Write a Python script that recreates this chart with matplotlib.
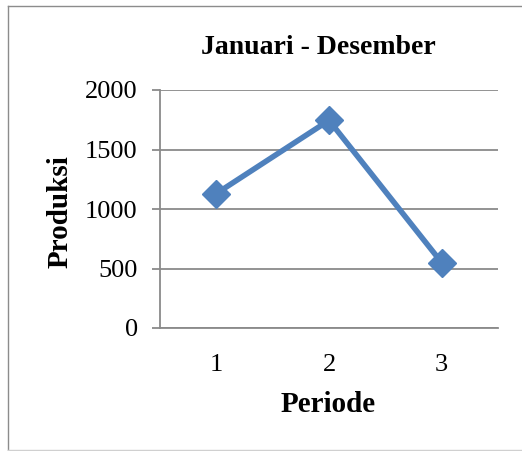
import matplotlib
matplotlib.use("Agg")
import matplotlib.pyplot as plt
from matplotlib.lines import Line2D

plt.rcParams["font.family"] = ["Liberation Serif", "DejaVu Serif"]

periode = ["1", "2", "3"]
produksi = [1130, 1745, 550]
yticks = [0, 500, 1000, 1500, 2000]

W, H = 522, 451
fig = plt.figure(figsize=(W / 100, H / 100), dpi=100)
ax = fig.add_axes([160 / W, 1 - 328 / H, (498 - 160) / W, (328 - 90) / H])

x = list(range(1, len(periode) + 1))
ax.plot(x, produksi, color="#4F81BD", lw=4, marker="D", ms=14,
        solid_joinstyle="miter", zorder=3, clip_on=False)

ax.set_xlim(0.5, 3.5)
ax.set_ylim(0, 2000)
ax.set_yticks(yticks)
ax.set_xticks(x)
ax.set_xticklabels(periode)
ax.yaxis.grid(True, color="#8a8a8a", lw=1.3)
ax.set_axisbelow(True)
for s in ["top", "right"]:
    ax.spines[s].set_visible(False)
for s in ["left", "bottom"]:
    ax.spines[s].set_color("#8a8a8a")
    ax.spines[s].set_linewidth(1.3)
ax.tick_params(axis="y", length=6, width=1.3, color="#8a8a8a", labelsize=19, pad=10)
ax.tick_params(axis="x", length=0, labelsize=19, pad=19)

# judul dan label sumbu
fig.text(318 / W, 1 - 47 / H, "Januari - Desember", fontsize=20, fontweight="bold",
         ha="center", va="center")
fig.text(328 / W, 1 - 404 / H, "Periode", fontsize=21, fontweight="bold",
         ha="center", va="center")
fig.text(60 / W, 1 - 212 / H, "Produksi", fontsize=21, fontweight="bold",
         ha="center", va="center", rotation=90)

# bingkai grafik
fig.add_artist(Line2D([8 / W, 8 / W], [1 - 5.5 / H, 1 - 450 / H], color="#8c8c8c", lw=1))
fig.add_artist(Line2D([8 / W, 1], [1 - 5.5 / H, 1 - 5.5 / H], color="#8c8c8c", lw=1))
fig.add_artist(Line2D([8 / W, 1], [1 - 450 / H, 1 - 450 / H], color="#d0d0d0", lw=1))

fig.savefig("out.png", dpi=100)
